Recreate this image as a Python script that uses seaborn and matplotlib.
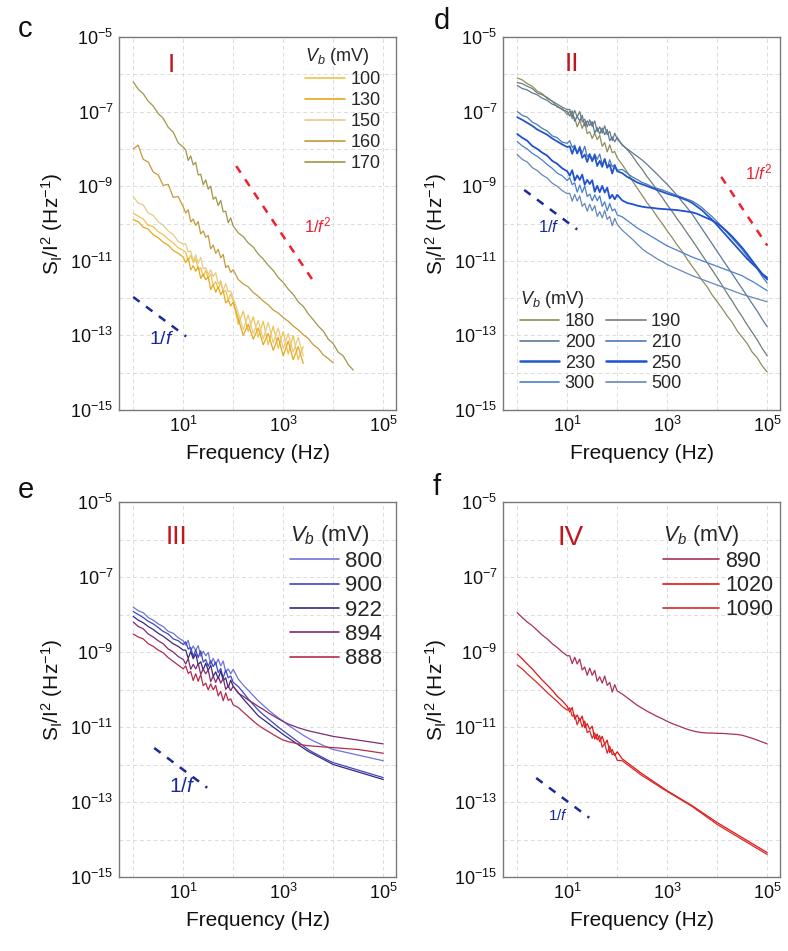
import numpy as np
import pandas as pd
import matplotlib
matplotlib.use("Agg")
import matplotlib.pyplot as plt
import seaborn as sns
from matplotlib.lines import Line2D
from matplotlib.ticker import LogLocator, FuncFormatter, NullFormatter

sns.set_theme(style="white")
plt.rcParams["font.family"] = ["Liberation Sans", "DejaVu Sans"]
plt.rcParams["mathtext.fontset"] = "custom"
plt.rcParams["mathtext.rm"] = "Liberation Sans"
plt.rcParams["mathtext.it"] = "Liberation Sans:italic"
plt.rcParams["mathtext.bf"] = "Liberation Sans:bold"

nan = float("nan")

# sampling frequencies, log10(Hz)
LOG_F = [0.0, 0.1, 0.2, 0.3, 0.4, 0.5, 0.6, 0.7, 0.8, 0.9, 1.0,
         1.05, 1.10, 1.15, 1.20, 1.25, 1.30, 1.35, 1.40, 1.45, 1.50,
         1.55, 1.60, 1.65, 1.70, 1.75, 1.80, 1.85, 1.90, 1.95, 2.00,
         2.1, 2.2, 2.3, 2.4, 2.5, 2.6, 2.7, 2.8, 2.9, 3.0,
         3.1, 3.2, 3.3, 3.4, 3.5, 3.6, 3.7, 3.8, 3.9, 4.0,
         4.1, 4.2, 4.3, 4.4, 4.5, 4.6, 4.7, 4.8, 4.9, 5.0]

# ---------------- region I: log10(S_I/I^2) ----------------
VB_I = ["100", "130", "150", "160", "170"]
I_100 = [-9.73, -9.80, -9.88, -10.05, -10.08, -10.22, -10.30, -10.42, -10.52, -10.65, -10.72,
         -10.77, -11.00, -10.85, -11.05, -10.94, -11.24, -11.19, -11.42, -11.26, -11.46,
         -11.35, -11.66, -11.56, -11.75, -11.58, -11.84, -11.79, -12.06, -11.89, -12.07,
         -12.70, -12.35, -12.90, -12.50, -13.05, -12.62, -13.25, -12.75, -13.35, -12.90,
         -13.50, -13.00, -13.65, -13.30, nan, nan, nan, nan, nan, nan,
         nan, nan, nan, nan, nan, nan, nan, nan, nan, nan]
I_130 = [-9.90, -9.95, -10.10, -10.15, -10.30, -10.38, -10.50, -10.58, -10.72, -10.80, -10.90,
         -11.05, -10.93, -11.24, -11.13, -11.28, -11.16, -11.47, -11.36, -11.51, -11.43,
         -11.77, -11.64, -11.84, -11.70, -11.91, -11.80, -12.13, -12.05, -12.21, -12.11,
         -12.55, -13.00, -12.70, -13.10, -12.80, -13.25, -12.95, -13.40, -13.05, -13.55,
         -13.15, -13.65, -13.30, -13.75, nan, nan, nan, nan, nan, nan,
         nan, nan, nan, nan, nan, nan, nan, nan, nan, nan]
I_150 = [-9.28, -9.45, -9.50, -9.72, -9.78, -9.95, -10.05, -10.20, -10.30, -10.48, -10.55,
         -10.55, -10.76, -10.74, -11.00, -10.84, -11.06, -10.91, -11.22, -11.18, -11.37,
         -11.24, -11.42, -11.32, -11.62, -11.53, -11.79, -11.61, -11.83, -11.81, -11.99,
         -12.40, -12.85, -12.45, -12.95, -12.60, -13.10, -12.65, -13.20, -12.80, -13.35,
         -12.95, -13.45, -13.05, -13.55, nan, nan, nan, nan, nan, nan,
         nan, nan, nan, nan, nan, nan, nan, nan, nan, nan]
I_160 = [-8.00, -7.90, -8.28, -8.35, -8.62, -8.70, -8.98, -8.95, -9.30, -9.28, -9.55,
         -9.72, -9.63, -9.96, -9.88, -10.05, -9.95, -10.28, -10.20, -10.37, -10.32,
         -10.68, -10.58, -10.80, -10.69, -10.92, -10.83, -11.18, -11.13, -11.31, -11.24,
         -11.50, -11.62, -11.70, -11.85, -11.95, -12.08, -12.18, -12.32, -12.40, -12.52,
         -12.62, -12.75, -12.85, -12.98, -13.08, -13.25, -13.35, -13.52, -13.62, -13.74,
         nan, nan, nan, nan, nan, nan, nan, nan, nan, nan]
I_170 = [-6.20, -6.40, -6.52, -6.72, -6.85, -7.05, -7.18, -7.42, -7.55, -7.84, -7.95,
         -8.03, -8.31, -8.19, -8.43, -8.36, -8.70, -8.68, -8.96, -8.83, -9.08,
         -9.00, -9.35, -9.29, -9.52, -9.38, -9.69, -9.67, -9.98, -9.85, -10.07,
         -10.25, -10.35, -10.52, -10.63, -10.82, -10.95, -11.12, -11.26, -11.45, -11.58,
         -11.76, -11.90, -12.10, -12.22, -12.42, -12.58, -12.75, -12.88, -13.10, -13.22,
         -13.45, -13.55, -13.78, -13.93, nan, nan, nan, nan, nan, nan]
COL_I = ["#F0C24A", "#E5A81E", "#E6CB86", "#C49A3A", "#A0964A"]

# ---------------- region II ----------------
VB_II = ["180", "190", "200", "210", "230", "250", "300", "500"]
II_180 = [-6.10, -6.15, -6.25, -6.32, -6.45, -6.52, -6.65, -6.72, -6.88, -6.92, -7.08,
          -6.99, -7.19, -7.16, -7.41, -7.24, -7.45, -7.29, -7.59, -7.54, -7.72,
          -7.58, -7.75, -7.64, -7.93, -7.83, -8.08, -7.89, -8.10, -8.07, -8.24,
          -8.42, -8.62, -8.85, -9.05, -9.25, -9.45, -9.62, -9.82, -10.00, -10.20,
          -10.38, -10.58, -10.75, -10.96, -11.15, -11.33, -11.53, -11.70, -11.92, -12.10,
          -12.28, -12.48, -12.65, -12.88, -13.05, -13.22, -13.45, -13.60, -13.82, -13.98]
II_190 = [-6.22, -6.25, -6.32, -6.38, -6.50, -6.55, -6.62, -6.72, -6.80, -6.88, -6.95,
          -6.94, -7.15, -6.97, -7.14, -7.00, -7.28, -7.20, -7.41, -7.22, -7.40,
          -7.25, -7.54, -7.41, -7.58, -7.38, -7.62, -7.53, -7.78, -7.58, -7.74,
          -7.88, -8.02, -8.18, -8.38, -8.55, -8.75, -8.92, -9.12, -9.30, -9.50,
          -9.68, -9.88, -10.06, -10.26, -10.45, -10.65, -10.85, -11.05, -11.25, -11.45,
          -11.66, -11.88, -12.08, -12.30, -12.50, -12.72, -12.92, -13.12, -13.35, -13.55]
II_200 = [-6.30, -6.38, -6.42, -6.50, -6.55, -6.64, -6.70, -6.80, -6.85, -6.95, -7.00,
          -7.12, -6.98, -7.26, -7.13, -7.25, -7.10, -7.38, -7.25, -7.37, -7.27,
          -7.58, -7.43, -7.60, -7.44, -7.62, -7.48, -7.78, -7.68, -7.81, -7.69,
          -7.90, -8.00, -8.10, -8.20, -8.30, -8.42, -8.55, -8.68, -8.82, -8.95,
          -9.10, -9.25, -9.42, -9.58, -9.75, -9.95, -10.15, -10.35, -10.55, -10.75,
          -10.95, -11.15, -11.35, -11.55, -11.75, -11.95, -12.15, -12.35, -12.57, -12.77]
II_210 = [-7.00, -7.10, -7.15, -7.28, -7.35, -7.45, -7.52, -7.65, -7.70, -7.82, -7.85,
          -7.78, -7.96, -7.90, -8.13, -7.93, -8.12, -7.93, -8.21, -8.13, -8.30,
          -8.13, -8.28, -8.14, -8.41, -8.28, -8.51, -8.29, -8.48, -8.42, -8.57,
          -8.55, -8.65, -8.75, -8.82, -8.90, -8.95, -9.02, -9.06, -9.10, -9.15,
          -9.20, -9.25, -9.30, -9.35, -9.40, -9.48, -9.58, -9.70, -9.82, -9.95,
          -10.10, -10.25, -10.40, -10.55, -10.70, -10.88, -11.05, -11.22, -11.42, -11.60]
II_230 = [-7.15, -7.22, -7.30, -7.38, -7.48, -7.55, -7.62, -7.72, -7.80, -7.88, -7.95,
          -7.93, -8.13, -7.94, -8.12, -7.97, -8.24, -8.15, -8.35, -8.15, -8.33,
          -8.18, -8.46, -8.32, -8.48, -8.27, -8.50, -8.42, -8.66, -8.45, -8.60,
          -8.65, -8.75, -8.82, -8.90, -8.95, -9.00, -9.05, -9.10, -9.15, -9.20,
          -9.24, -9.28, -9.33, -9.38, -9.45, -9.55, -9.65, -9.78, -9.90, -10.05,
          -10.20, -10.35, -10.50, -10.65, -10.80, -10.95, -11.08, -11.20, -11.35, -11.45]
II_250 = [-7.60, -7.70, -7.78, -7.92, -8.00, -8.10, -8.18, -8.32, -8.40, -8.52, -8.60,
          -8.72, -8.57, -8.85, -8.71, -8.83, -8.69, -8.96, -8.83, -8.94, -8.84,
          -9.15, -8.99, -9.16, -8.99, -9.17, -9.04, -9.33, -9.23, -9.35, -9.23,
          -9.38, -9.45, -9.48, -9.52, -9.55, -9.57, -9.58, -9.60, -9.61, -9.62,
          -9.63, -9.64, -9.66, -9.68, -9.70, -9.74, -9.80, -9.86, -9.92, -10.00,
          -10.10, -10.22, -10.35, -10.50, -10.65, -10.82, -11.00, -11.18, -11.36, -11.50]
II_300 = [-7.80, -7.92, -8.00, -8.12, -8.20, -8.30, -8.42, -8.52, -8.65, -8.72, -8.85,
          -8.77, -8.96, -8.91, -9.16, -8.97, -9.17, -8.99, -9.28, -9.21, -9.39,
          -9.23, -9.39, -9.26, -9.54, -9.42, -9.66, -9.46, -9.66, -9.61, -9.77,
          -9.82, -9.92, -10.02, -10.12, -10.20, -10.28, -10.36, -10.44, -10.52, -10.60,
          -10.66, -10.72, -10.78, -10.84, -10.90, -10.95, -11.00, -11.05, -11.10, -11.15,
          -11.20, -11.25, -11.30, -11.35, -11.40, -11.48, -11.55, -11.63, -11.72, -11.80]
II_500 = [-8.15, -8.28, -8.35, -8.50, -8.58, -8.70, -8.78, -8.92, -9.00, -9.12, -9.20,
          -9.19, -9.40, -9.22, -9.40, -9.26, -9.54, -9.46, -9.67, -9.48, -9.66,
          -9.52, -9.81, -9.68, -9.85, -9.65, -9.89, -9.81, -10.06, -9.86, -10.02,
          -10.18, -10.30, -10.42, -10.55, -10.68, -10.78, -10.86, -10.95, -11.02, -11.10,
          -11.16, -11.22, -11.28, -11.34, -11.40, -11.45, -11.50, -11.55, -11.60, -11.65,
          -11.70, -11.75, -11.80, -11.85, -11.90, -11.94, -11.98, -12.02, -12.06, -12.10]
COL_II = ["#8E8E5C", "#6E7E78", "#5C7898", "#4A7AB8", "#2456C8", "#1E50D0", "#4A7ED0", "#6688B8"]
LW_II = [0.9, 0.9, 0.9, 0.9, 1.3, 1.3, 0.9, 0.9]

# ---------------- region III ----------------
VB_III = ["800", "900", "922", "894", "888"]
III_800 = [-7.80, -7.90, -7.95, -8.08, -8.15, -8.25, -8.32, -8.45, -8.50, -8.62, -8.70,
           -8.82, -8.69, -8.97, -8.84, -8.96, -8.83, -9.11, -8.98, -9.10, -9.01,
           -9.32, -9.17, -9.34, -9.19, -9.37, -9.24, -9.54, -9.45, -9.58, -9.46,
           -9.72, -9.88, -10.02, -10.16, -10.30, -10.42, -10.54, -10.65, -10.75, -10.85,
           -10.95, -11.04, -11.13, -11.22, -11.30, -11.37, -11.43, -11.49, -11.55, -11.60,
           -11.63, -11.66, -11.69, -11.72, -11.75, -11.78, -11.81, -11.84, -11.87, -11.90]
III_900 = [-7.92, -8.00, -8.08, -8.18, -8.25, -8.35, -8.45, -8.52, -8.65, -8.70, -8.80,
           -8.73, -8.92, -8.88, -9.12, -8.94, -9.15, -8.97, -9.27, -9.20, -9.38,
           -9.23, -9.39, -9.27, -9.55, -9.44, -9.69, -9.48, -9.69, -9.64, -9.81,
           -9.92, -10.08, -10.25, -10.40, -10.55, -10.67, -10.78, -10.89, -11.00, -11.10,
           -11.20, -11.30, -11.40, -11.50, -11.60, -11.68, -11.75, -11.82, -11.89, -11.95,
           -11.99, -12.03, -12.07, -12.11, -12.15, -12.19, -12.23, -12.27, -12.31, -12.35]
III_922 = [-8.05, -8.15, -8.22, -8.32, -8.40, -8.50, -8.58, -8.68, -8.78, -8.85, -8.95,
           -8.95, -9.17, -8.99, -9.18, -9.05, -9.34, -9.26, -9.48, -9.30, -9.49,
           -9.35, -9.65, -9.53, -9.71, -9.51, -9.76, -9.69, -9.95, -9.75, -9.92,
           -10.08, -10.25, -10.40, -10.55, -10.70, -10.80, -10.90, -11.00, -11.10, -11.20,
           -11.29, -11.38, -11.47, -11.56, -11.65, -11.72, -11.79, -11.86, -11.93, -12.00,
           -12.04, -12.08, -12.12, -12.16, -12.20, -12.24, -12.28, -12.32, -12.36, -12.40]
III_894 = [-8.20, -8.32, -8.38, -8.52, -8.60, -8.70, -8.78, -8.92, -9.00, -9.12, -9.20,
           -9.32, -9.18, -9.46, -9.33, -9.45, -9.31, -9.59, -9.46, -9.58, -9.48,
           -9.79, -9.64, -9.81, -9.65, -9.83, -9.70, -10.00, -9.90, -10.03, -9.91,
           -10.10, -10.18, -10.28, -10.36, -10.45, -10.53, -10.62, -10.70, -10.78, -10.85,
           -10.92, -10.97, -11.02, -11.06, -11.10, -11.13, -11.16, -11.19, -11.22, -11.25,
           -11.27, -11.29, -11.31, -11.33, -11.35, -11.37, -11.39, -11.41, -11.43, -11.45]
III_888 = [-8.52, -8.60, -8.65, -8.78, -8.85, -8.95, -9.02, -9.15, -9.25, -9.35, -9.45,
           -9.37, -9.57, -9.52, -9.76, -9.58, -9.78, -9.60, -9.90, -9.83, -10.01,
           -9.85, -10.01, -9.89, -10.17, -10.05, -10.30, -10.09, -10.29, -10.25, -10.41,
           -10.48, -10.60, -10.72, -10.84, -10.95, -11.04, -11.12, -11.20, -11.28, -11.35,
           -11.39, -11.42, -11.45, -11.48, -11.50, -11.51, -11.52, -11.53, -11.54, -11.55,
           -11.56, -11.57, -11.58, -11.59, -11.60, -11.62, -11.64, -11.66, -11.68, -11.70]
COL_III = ["#6E74D8", "#3C48C0", "#3A2880", "#7E2C76", "#B42C4C"]

# ---------------- region IV ----------------
VB_IV = ["890", "1020", "1090"]
IV_890 = [-7.95, -8.08, -8.20, -8.30, -8.42, -8.55, -8.65, -8.78, -8.88, -9.00, -9.10,
          -9.10, -9.31, -9.14, -9.32, -9.19, -9.48, -9.40, -9.62, -9.43, -9.62,
          -9.49, -9.78, -9.66, -9.83, -9.64, -9.89, -9.81, -10.07, -9.87, -10.04,
          -10.12, -10.22, -10.32, -10.42, -10.50, -10.58, -10.65, -10.72, -10.78, -10.85,
          -10.91, -10.96, -11.01, -11.06, -11.10, -11.13, -11.15, -11.16, -11.16, -11.17,
          -11.17, -11.18, -11.19, -11.20, -11.22, -11.26, -11.30, -11.35, -11.40, -11.45]
IV_1020 = [-9.05, -9.18, -9.32, -9.45, -9.60, -9.75, -9.88, -10.02, -10.18, -10.30, -10.45,
           -10.60, -10.48, -10.79, -10.68, -10.83, -10.71, -11.02, -10.91, -11.06, -10.98,
           -11.32, -11.19, -11.39, -11.25, -11.46, -11.35, -11.68, -11.60, -11.76, -11.66,
           -11.85, -11.95, -12.05, -12.15, -12.25, -12.34, -12.43, -12.52, -12.61, -12.70,
           -12.78, -12.86, -12.94, -13.02, -13.10, -13.19, -13.28, -13.37, -13.46, -13.55,
           -13.63, -13.71, -13.79, -13.87, -13.95, -14.03, -14.11, -14.19, -14.27, -14.35]
IV_1090 = [-9.35, -9.45, -9.58, -9.70, -9.82, -9.95, -10.08, -10.20, -10.32, -10.45, -10.55,
           -10.49, -10.71, -10.68, -10.94, -10.77, -11.00, -10.84, -11.15, -11.10, -11.30,
           -11.16, -11.34, -11.23, -11.54, -11.44, -11.70, -11.51, -11.74, -11.71, -11.89,
           -11.90, -12.00, -12.10, -12.20, -12.30, -12.38, -12.47, -12.55, -12.64, -12.72,
           -12.80, -12.88, -12.96, -13.04, -13.12, -13.22, -13.31, -13.41, -13.50, -13.60,
           -13.68, -13.76, -13.84, -13.92, -14.00, -14.08, -14.16, -14.24, -14.32, -14.40]
COL_IV = ["#A8305A", "#E41414", "#D42A2A"]

# slope guides: (log10 f start, log10 S start, log10 f end, slope, colour)
GUIDE_I = [(0.0, -11.97, 1.06, -1, "#1A2A9A"), (2.06, -8.46, 3.62, -2, "#EE2030")]
GUIDE_II = [(0.14, -9.10, 1.20, -1, "#1A2A9A"), (4.08, -8.75, 5.0, -2, "#EE2030")]
GUIDE_III = [(0.42, -11.56, 1.48, -1, "#1A2A9A")]
GUIDE_IV = [(0.38, -12.36, 1.44, -1, "#1A2A9A")]


def frame(labels, series):
    rows = []
    for lab, vals in zip(labels, series):
        assert len(vals) == len(LOG_F)
        d = pd.DataFrame({"f": np.power(10.0, LOG_F), "S": np.power(10.0, vals), "Vb": lab})
        rows.append(d.dropna())
    return pd.concat(rows, ignore_index=True)


def exp_label(v, pos):
    e = int(round(np.log10(v)))
    return f"$10^{{{e}}}$" if e % 2 == 1 else ""


AX_COL = "#7A7A7A"


def style_axes(ax):
    ax.set_xscale("log")
    ax.set_yscale("log")
    ax.set_xlim(0.52, 1.8e5)
    ax.set_ylim(1e-15, 1e-5)
    for a in (ax.xaxis, ax.yaxis):
        a.set_major_locator(LogLocator(base=10, numticks=30))
        a.set_minor_locator(LogLocator(base=10, subs=np.arange(2, 10), numticks=30))
        a.set_major_formatter(FuncFormatter(exp_label))
        a.set_minor_formatter(NullFormatter())
    ax.tick_params(which="both", direction="in", top=False, right=False,
                   colors=AX_COL, labelcolor="#111111", labelsize=13)
    ax.tick_params(which="major", length=4, width=0.8, pad=4)
    ax.tick_params(which="minor", length=2.2, width=0.6)
    ax.grid(True, which="major", ls=(0, (4, 3)), color="#DCDCDC", lw=0.7)
    for s in ax.spines.values():
        s.set_color(AX_COL)
        s.set_linewidth(1.0)
    ax.set_xlabel("Frequency (Hz)", fontsize=15, color="#111111", labelpad=6)
    ax.set_ylabel(r"S$_\mathrm{I}$/I$^2$ (Hz$^{-1}$)", fontsize=15, color="#111111", labelpad=4)


def guides(ax, spec):
    for x0, y0, x1, slope, col in spec:
        y1 = y0 + slope * (x1 - x0)
        ax.plot([10 ** x0, 10 ** x1], [10 ** y0, 10 ** y1], color=col, lw=1.8,
                ls=(0, (3.2, 3.2)), solid_capstyle="butt")


def draw(ax, labels, series, colors, widths=None):
    df = frame(labels, series)
    pal = dict(zip(labels, colors))
    sns.lineplot(data=df, x="f", y="S", hue="Vb", hue_order=labels, palette=pal,
                 estimator=None, sort=False, lw=0.9, legend=False, ax=ax)
    if widths is not None:
        for line, w in zip(ax.get_lines(), widths):
            line.set_linewidth(w)


def legend(ax, labels, colors, anchor, fs, ncol=1, order=None, widths=None, **kw):
    widths = widths or [1.2] * len(labels)
    handles = [Line2D([], [], color=c, lw=w) for c, w in zip(colors, widths)]
    idx = order if order is not None else range(len(labels))
    leg = ax.legend([handles[i] for i in idx], [labels[i] for i in idx],
                    title=r"$V_b$ (mV)", loc="upper left", bbox_to_anchor=anchor,
                    ncol=ncol, frameon=False, fontsize=fs, title_fontsize=fs,
                    alignment="left", borderaxespad=0, borderpad=0, **kw)
    return leg


fig = plt.figure(figsize=(7.88, 9.51), dpi=100)
W, H = 788.0, 951.0
ax_c = fig.add_axes([119 / W, 1 - 410 / H, 277 / W, 373 / H])
ax_d = fig.add_axes([503 / W, 1 - 410 / H, 277 / W, 373 / H])
ax_e = fig.add_axes([119 / W, 1 - 877 / H, 277 / W, 375 / H])
ax_f = fig.add_axes([503 / W, 1 - 877 / H, 277 / W, 375 / H])

ROMAN = "#C0161E"

# region I
draw(ax_c, VB_I, [I_100, I_130, I_150, I_160, I_170], COL_I)
style_axes(ax_c)
guides(ax_c, GUIDE_I)
ax_c.text(0.19, 0.925, "I", transform=ax_c.transAxes, color=ROMAN, fontsize=19,
          ha="center", va="center")
ax_c.text(10 ** 0.32, 10 ** -13.1, "1/$f$", color="#1A2A9A", fontsize=14, ha="left", va="center")
ax_c.text(10 ** 3.42, 10 ** -10.05, "1/$f^2$", color="#EE2030", fontsize=12, ha="left", va="center")
legend(ax_c, VB_I, COL_I, (0.672, 0.975), 13, handlelength=2.2, handletextpad=0.3,
       labelspacing=0.22)

# region II
draw(ax_d, VB_II, [II_180, II_190, II_200, II_210, II_230, II_250, II_300, II_500], COL_II, LW_II)
style_axes(ax_d)
guides(ax_d, GUIDE_II)
ax_d.text(0.249, 0.928, "II", transform=ax_d.transAxes, color=ROMAN, fontsize=19,
          ha="center", va="center")
ax_d.text(10 ** 0.42, 10 ** -10.1, "1/$f$", color="#1A2A9A", fontsize=12, ha="left", va="center")
ax_d.text(10 ** 4.55, 10 ** -8.62, "1/$f^2$", color="#EE2030", fontsize=12, ha="left", va="center")
legend(ax_d, VB_II, COL_II, (0.06, 0.325), 13, ncol=2, order=[0, 2, 4, 6, 1, 3, 5, 7],
       widths=[1.2, 1.2, 1.2, 1.2, 1.8, 1.8, 1.2, 1.2],
       handlelength=2.2, handletextpad=0.3, labelspacing=0.2, columnspacing=0.6)

# region III
draw(ax_e, VB_III, [III_800, III_900, III_922, III_894, III_888], COL_III)
style_axes(ax_e)
guides(ax_e, GUIDE_III)
ax_e.text(0.206, 0.907, "III", transform=ax_e.transAxes, color=ROMAN, fontsize=19,
          ha="center", va="center")
ax_e.text(10 ** 0.72, 10 ** -12.6, "1/$f$", color="#1A2A9A", fontsize=15, ha="left", va="center")
legend(ax_e, VB_III, COL_III, (0.617, 0.945), 16, handlelength=2.2, handletextpad=0.3,
       labelspacing=0.15)

# region IV
draw(ax_f, VB_IV, [IV_890, IV_1020, IV_1090], COL_IV)
style_axes(ax_f)
guides(ax_f, GUIDE_IV)
ax_f.text(0.245, 0.904, "IV", transform=ax_f.transAxes, color=ROMAN, fontsize=20,
          ha="center", va="center")
ax_f.text(10 ** 0.62, 10 ** -13.35, "1/$f$", color="#1A2A9A", fontsize=11, ha="left", va="center")
legend(ax_f, VB_IV, COL_IV, (0.578, 0.945), 15.5, handlelength=2.6, handletextpad=0.3,
       labelspacing=0.15)

# panel letters
for ch, x, y in [("c", 18, 37), ("d", 434, 29), ("e", 18, 498), ("f", 433, 495)]:
    fig.text(x / W, 1 - y / H, ch, fontsize=21, color="#111111", ha="left", va="baseline")

fig.savefig("out.png", dpi=100)
